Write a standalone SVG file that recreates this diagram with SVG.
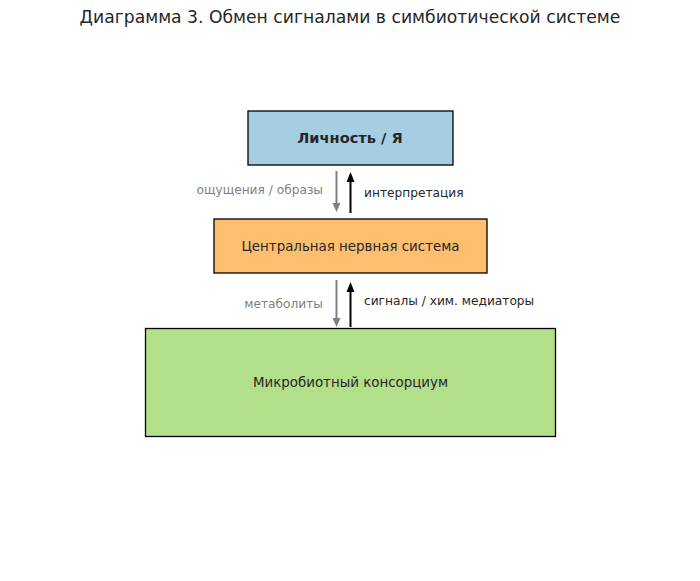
<svg xmlns="http://www.w3.org/2000/svg" width="700" height="581" viewBox="0 0 700 581">
<defs>
<style>
text{font-family:"DejaVu Sans","Noto Sans",sans-serif;}
.title{font-size:17.2px;fill:#262626;}
.box{stroke:#000;stroke-width:1.3;}
.lbl{font-size:13.4px;fill:#262626;}
.hd{font-size:14.6px;font-weight:bold;fill:#262626;}
.gl{font-size:12.2px;fill:#808080;}
.bl{font-size:12.2px;fill:#262626;}
</style>
</defs>
<rect width="700" height="581" fill="#fff"/>
<text class="title" x="350" y="23" text-anchor="middle">Диаграмма 3. Обмен сигналами в симбиотической системе</text>
<g id="node-self">
<rect class="box" x="248" y="111" width="205" height="54" fill="#a6cee3"/>
<text class="hd" x="350" y="143" text-anchor="middle">Личность / Я</text>
</g>
<g id="node-cns">
<rect class="box" x="214" y="219" width="273" height="54" fill="#fdbf6f"/>
<text class="lbl" x="350.5" y="251" text-anchor="middle">Центральная нервная система</text>
</g>
<g id="node-microbiota">
<rect class="box" x="145.5" y="328.5" width="410" height="108" fill="#b2df8a"/>
<text class="lbl" x="350.5" y="387" text-anchor="middle">Микробиотный консорциум</text>
</g>
<g id="connectors">
<line x1="336.5" y1="171" x2="336.5" y2="205" stroke="#808080" stroke-width="2"/>
<path d="M332.5,203 L340.5,203 L336.5,212 z" fill="#808080"/>
<line x1="350.5" y1="213" x2="350.5" y2="180" stroke="#000" stroke-width="2"/>
<path d="M346.5,182 L354.5,182 L350.5,172 z" fill="#000"/>
<text class="gl" x="323" y="194" text-anchor="end">ощущения / образы</text>
<text class="bl" x="364" y="197">интерпретация</text>
<line x1="336.5" y1="280" x2="336.5" y2="320" stroke="#808080" stroke-width="2"/>
<path d="M332.5,318 L340.5,318 L336.5,327 z" fill="#808080"/>
<line x1="350.5" y1="327" x2="350.5" y2="290" stroke="#000" stroke-width="2"/>
<path d="M346.5,292 L354.5,292 L350.5,282 z" fill="#000"/>
<text class="gl" x="323" y="308" text-anchor="end">метаболиты</text>
<text class="bl" x="364" y="305">сигналы / хим. медиаторы</text>
</g>
</svg>
